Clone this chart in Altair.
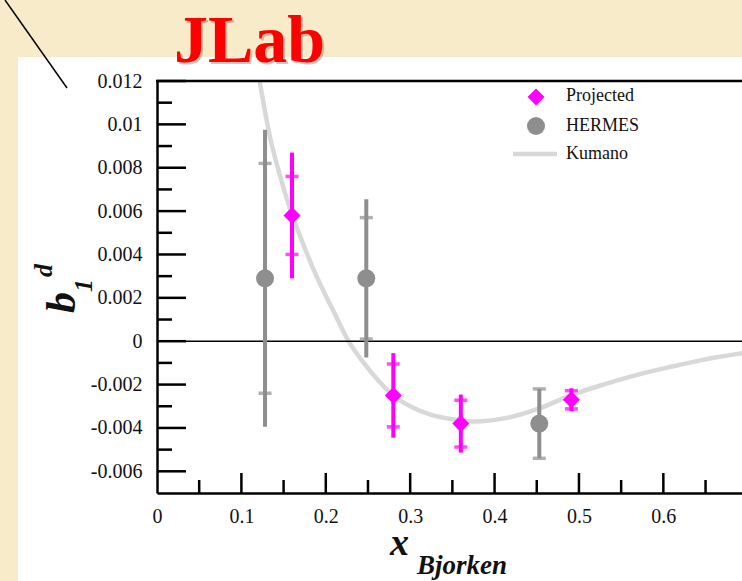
import altair as alt
import pandas as pd

# ---------------- data ----------------
proj_x = [0.160, 0.280, 0.360, 0.491]
proj_y = [0.0058, -0.0025, -0.0038, -0.0027]
proj_err_tot = [0.0029, 0.00195, 0.00134, 0.00053]
proj_err_stat = [0.0018, 0.00145, 0.00108, 0.00042]

hermes_x = [0.128, 0.248, 0.453]
hermes_y = [0.0029, 0.0029, -0.0038]
hermes_err_tot = [0.00685, 0.00365, 0.0016]
hermes_err_stat = [0.0053, 0.0028, 0.0016]

kumano_x = [0.118, 0.122, 0.134, 0.146, 0.156, 0.170, 0.189, 0.209, 0.227, 0.245,
            0.262, 0.280, 0.300, 0.325, 0.350, 0.375, 0.419, 0.453, 0.490, 0.529,
            0.569, 0.609, 0.648, 0.694]
kumano_y = [0.0128, 0.0119, 0.0094, 0.0076, 0.0063, 0.0048, 0.0030, 0.0014, 0.0000, -0.0010,
            -0.0018, -0.0025, -0.0030, -0.0034, -0.0036, -0.0037, -0.0035, -0.0031, -0.0025, -0.0020,
            -0.00155, -0.00118, -0.00085, -0.00055]

x_label_values = [0, 0.1, 0.2, 0.3, 0.4, 0.5, 0.6]
x_major = [0.1, 0.2, 0.3, 0.4, 0.5, 0.6]
x_minor = [0.05, 0.15, 0.25, 0.35, 0.45, 0.55, 0.65]
y_major = [-0.006, -0.004, -0.002, 0.0, 0.002, 0.004, 0.006, 0.008, 0.01, 0.012]
y_minor = [-0.005, -0.003, -0.001, 0.001, 0.003, 0.005, 0.007, 0.009, 0.011]

series_names = ["Projected", "HERMES", "Kumano"]

# ---------------- layout / style ----------------
W, H = 585, 412
X_DOM = [0, 0.6932]
Y_DOM = [-0.007, 0.012]
FONT = "Liberation Serif"
MAGENTA = "#ff00ff"
GREY = "#8e8e8e"
CURVE = "#d8d8d8"
BEIGE = "#f8ebca"

xs = alt.Scale(domain=X_DOM, nice=False, zero=False)
ys = alt.Scale(domain=Y_DOM, nice=False, zero=False)

X_AX = alt.Axis(
    values=x_label_values, ticks=False, grid=False, domainColor="black", domainWidth=2.5,
    labelFont=FONT, labelFontSize=20, labelColor="#111", labelPadding=13,
    labelExpr="format(datum.value, '~g')", labelOverlap=False, labelFlush=False,
    labelBound=False, title=None, zindex=1)
Y_AX = alt.Axis(
    values=y_major, ticks=False, grid=False, domainColor="black", domainWidth=2.5,
    labelFont=FONT, labelFontSize=20, labelColor="#111", labelPadding=15,
    labelExpr="datum.value < 0 ? '-' + format(-datum.value, '~g') : format(datum.value, '~g')",
    labelOverlap=False, labelFlush=False, labelBound=False, title=None, zindex=1)


def X(field):
    return alt.X(field, scale=xs, axis=X_AX)


def Y(field):
    return alt.Y(field, scale=ys, axis=Y_AX)


one = alt.Data(values=[{}])


def err_frames(xv, yv, tot, stat):
    bars = pd.DataFrame({"x": xv, "lo": [a - b for a, b in zip(yv, tot)],
                         "hi": [a + b for a, b in zip(yv, tot)]})
    caps = pd.DataFrame({"x": list(xv) + list(xv),
                         "y": [a - b for a, b in zip(yv, stat)] + [a + b for a, b in zip(yv, stat)]})
    pts = pd.DataFrame({"x": xv, "y": yv})
    return bars, caps, pts


pb, pc, pp = err_frames(proj_x, proj_y, proj_err_tot, proj_err_stat)
hb, hc, hp = err_frames(hermes_x, hermes_y, hermes_err_tot, hermes_err_stat)
curve_df = pd.DataFrame({"x": kumano_x, "y": kumano_y})

# ---------------- decorations ----------------
panel = alt.Chart(one).mark_rect(color="white").encode(
    x=alt.value(-139), x2=alt.value(W + 2), y=alt.value(-24), y2=alt.value(H + 90))
diag = alt.Chart(one).mark_rule(color="black", strokeWidth=1.5).encode(
    x=alt.value(-152), y=alt.value(-81), x2=alt.value(-90), y2=alt.value(7))
title_shadow = alt.Chart(one).mark_text(
    text="JLab", font=FONT, fontSize=68, fontWeight="bold", color="#8a7560", opacity=0.4,
    align="left", baseline="alphabetic").encode(x=alt.value(19), y=alt.value(-17))
title = alt.Chart(one).mark_text(
    text="JLab", font=FONT, fontSize=68, fontWeight="bold", color="#ff0000",
    align="left", baseline="alphabetic").encode(x=alt.value(17), y=alt.value(-19))

# ---------------- curve (also carries the axes) ----------------
curve = alt.Chart(curve_df).mark_line(
    color=CURVE, strokeWidth=4.5, interpolate="monotone", clip=True).encode(
    x=X("x:Q"), y=Y("y:Q"))

top_frame = alt.Chart(one).mark_rule(color="black", strokeWidth=2.5).encode(
    x=alt.value(-1), x2=alt.value(W), y=alt.value(0))
zero_line = alt.Chart(pd.DataFrame({"y": [0.0]})).mark_rule(color="black", strokeWidth=1.5).encode(
    y=Y("y:Q"), x=alt.value(0), x2=alt.value(W))


def yticks(vals, length):
    return alt.Chart(pd.DataFrame({"y": vals})).mark_rule(color="black", strokeWidth=2.5).encode(
        y=Y("y:Q"), x=alt.value(0), x2=alt.value(length))


def xticks(vals, length):
    return alt.Chart(pd.DataFrame({"x": vals})).mark_rule(color="black", strokeWidth=2.5, clip=True).encode(
        x=X("x:Q"), y=alt.value(H), y2=alt.value(H - length))


ticks = [yticks(y_major, 29), yticks(y_minor, 15), xticks(x_major, 20), xticks(x_minor, 13)]


def series(bars, caps, pts, color, shape, size):
    b = alt.Chart(bars).mark_rule(color=color, strokeWidth=4).encode(
        x=X("x:Q"), y=Y("lo:Q"), y2="hi:Q")
    c = alt.Chart(caps).mark_tick(color=color, orient="horizontal", size=13, thickness=3.5).encode(
        x=X("x:Q"), y=Y("y:Q"))
    p = alt.Chart(pts).mark_point(color=color, shape=shape, filled=True, opacity=1, size=size).encode(
        x=X("x:Q"), y=Y("y:Q"))
    return [b, c, p]


hermes_layers = series(hb, hc, hp, GREY, "circle", 324)
proj_layers = series(pb, pc, pp, MAGENTA, "diamond", 290)

# ---------------- legend ----------------
leg = [
    alt.Chart(one).mark_point(shape="diamond", filled=True, opacity=1, size=290, color=MAGENTA).encode(
        x=alt.value(379), y=alt.value(16)),
    alt.Chart(one).mark_point(shape="circle", filled=True, opacity=1, size=324, color=GREY).encode(
        x=alt.value(379), y=alt.value(45)),
    alt.Chart(one).mark_rule(color=CURVE, strokeWidth=4.5).encode(
        x=alt.value(356), x2=alt.value(400), y=alt.value(73)),
]
for i, name in enumerate(series_names):
    leg.append(alt.Chart(one).mark_text(
        text=name, font=FONT, fontSize=18, color="#111", align="left", baseline="middle").encode(
        x=alt.value(409), y=alt.value([15, 45, 73][i])))

# ---------------- axis titles ----------------
ytitle = [
    alt.Chart(one).mark_text(text="b", font=FONT, fontSize=42, fontWeight="bold", fontStyle="italic",
                             angle=270, align="left", baseline="alphabetic", color="#111").encode(
        x=alt.value(-82), y=alt.value(232)),
    alt.Chart(one).mark_text(text="1", font=FONT, fontSize=26, fontWeight="bold", fontStyle="italic",
                             angle=270, align="left", baseline="alphabetic", color="#111").encode(
        x=alt.value(-65), y=alt.value(211)),
    alt.Chart(one).mark_text(text="d", font=FONT, fontSize=26, fontWeight="bold", fontStyle="italic",
                             angle=270, align="left", baseline="alphabetic", color="#111").encode(
        x=alt.value(-105), y=alt.value(196)),
]
xtitle = [
    alt.Chart(one).mark_text(text="x", font=FONT, fontSize=38, fontWeight="bold", fontStyle="italic",
                             align="left", baseline="alphabetic", color="#111").encode(
        x=alt.value(233), y=alt.value(474)),
    alt.Chart(one).mark_text(text="Bjorken", font=FONT, fontSize=27, fontWeight="bold", fontStyle="italic",
                             align="left", baseline="alphabetic", color="#111").encode(
        x=alt.value(260), y=alt.value(493)),
]

chart = alt.layer(
    panel, diag, title_shadow, title, curve, zero_line, *ticks, top_frame,
    *hermes_layers, *proj_layers, *leg, *ytitle, *xtitle
).properties(
    width=W, height=H,
    padding={"left": 157, "top": 81, "right": 0, "bottom": 88},
    autosize=alt.AutoSizeParams(type="none"),
    background=BEIGE,
).configure_view(stroke=None)

chart.save("out.html", embed_options={"renderer": "svg", "actions": False})
